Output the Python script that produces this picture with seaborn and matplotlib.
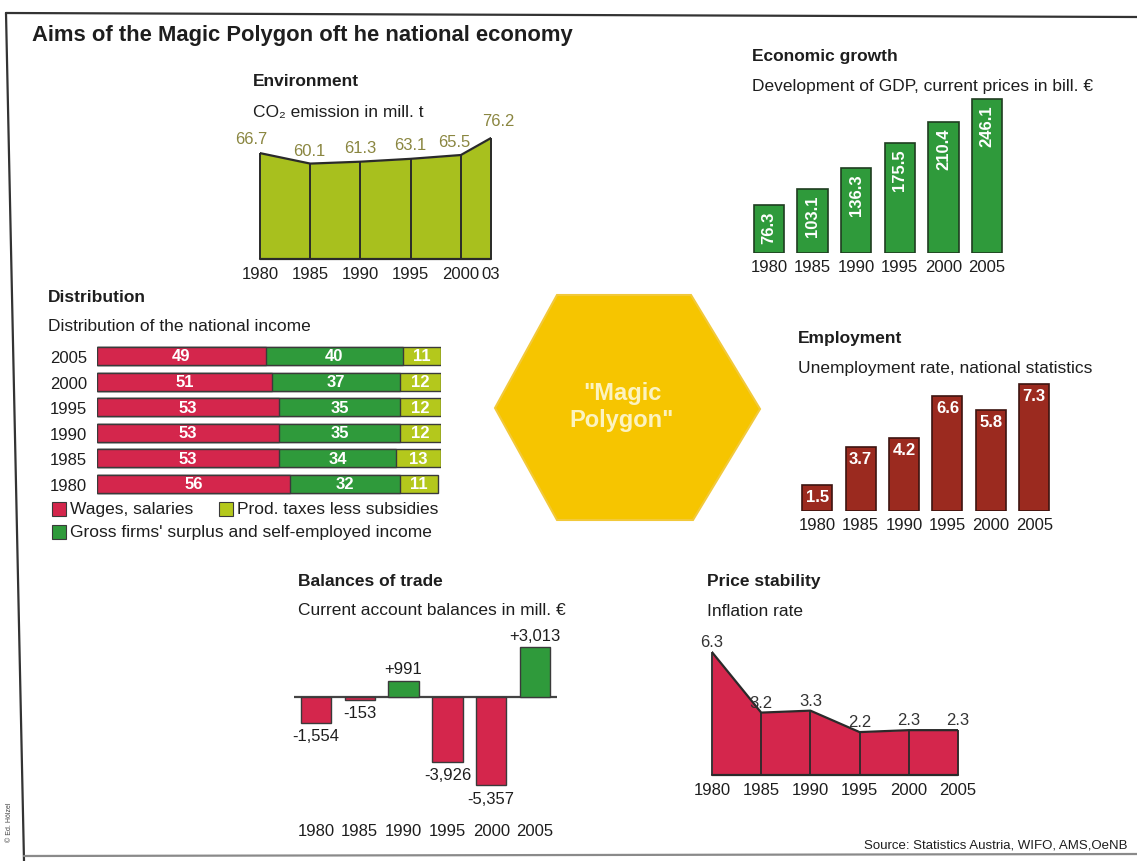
import numpy as np
import pandas as pd
import matplotlib
matplotlib.use("Agg")
import matplotlib.pyplot as plt
from matplotlib.patches import Polygon, Rectangle
import seaborn as sns

# ---------------- data ----------------
env_years = [1980, 1985, 1990, 1995, 2000, 2003]
env_labels = ["1980", "1985", "1990", "1995", "2000", "03"]
co2_emission = [66.7, 60.1, 61.3, 63.1, 65.5, 76.2]

years = ["1980", "1985", "1990", "1995", "2000", "2005"]
gdp_bill = [76.3, 103.1, 136.3, 175.5, 210.4, 246.1]
unemployment = [1.5, 3.7, 4.2, 6.6, 5.8, 7.3]
current_account = [-1554, -153, 991, -3926, -5357, 3013]

inflation_years = [1980, 1985, 1990, 1995, 2000, 2005]
inflation = [6.3, 3.2, 3.3, 2.2, 2.3, 2.3]

dist_years = ["2005", "2000", "1995", "1990", "1985", "1980"]
wages = [49, 51, 53, 53, 53, 56]
gross_surplus = [40, 37, 35, 35, 34, 32]
prod_taxes = [11, 12, 12, 12, 13, 11]

# ---------------- style ----------------
sns.set_theme(style="white")
plt.rcParams["font.family"] = ["Liberation Sans", "DejaVu Sans"]
plt.rcParams["axes.facecolor"] = "none"

DARK = "#2a2a2a"
TEXT = "#1e1e1e"
ENV_GREEN = "#a8c01e"
ENV_LABEL = "#8a8640"
GDP_GREEN = "#2f9a3b"
BAR_EDGE_G = "#1f3d20"
RED = "#d4264c"
BROWN = "#9b2a1f"
YGREEN = "#b4c81c"
HEX_YELLOW = "#f6c500"

FS_TICK = 12
FS_VAL = 12
FS_HEAD = 12.5
FS_SUB = 12.5

W, H = 1137, 862
fig = plt.figure(figsize=(W / 100, H / 100), dpi=100)
fig.patch.set_facecolor("white")


def px_axes(x0, y0, x1, y1):
    """Axes placed by pixel box (origin top-left)."""
    return fig.add_axes([x0 / W, 1 - y1 / H, (x1 - x0) / W, (y1 - y0) / H])


def clean(ax):
    for s in ax.spines.values():
        s.set_visible(False)
    ax.tick_params(length=0, colors=TEXT)
    ax.set_xlabel("")
    ax.set_ylabel("")
    ax.grid(False)


# background layer for frame, headings, legend and the hexagon
bg = fig.add_axes([0, 0, 1, 1])
bg.set_xlim(0, W)
bg.set_ylim(H, 0)
bg.axis("off")

bg.plot([6, W], [14, 18], color="#333333", lw=1.6)
bg.plot([6, 24], [14, H], color="#333333", lw=1.6)
bg.plot([24, W], [857, 855], color="#8a8a8a", lw=1.6)

bg.text(32, 36, "Aims of the Magic Polygon oft he national economy",
        fontsize=15.8, fontweight="bold", va="center", color=TEXT)

headings = [
    ("Environment", "CO\u2082 emission in mill. t", 253, 82, 113),
    ("Economic growth", "Development of GDP, current prices in bill. \u20ac", 752, 57, 87),
    ("Distribution", "Distribution of the national income", 48, 298, 327),
    ("Employment", "Unemployment rate, national statistics", 798, 339, 369),
    ("Balances of trade", "Current account balances in mill. \u20ac", 298, 582, 611),
    ("Price stability", "Inflation rate", 707, 582, 612),
]
for title, sub, x, yt, ys in headings:
    bg.text(x, yt, title, fontsize=FS_HEAD, fontweight="bold", va="center", color=TEXT)
    bg.text(x, ys, sub, fontsize=FS_SUB, va="center", color=TEXT)

bg.text(1128, 846, "Source: Statistics Austria, WIFO, AMS,OeNB",
        fontsize=9.5, ha="right", va="center", color=TEXT)
bg.text(10, 822, "\u00a9 Ed. H\u00f6lzel", rotation=90, fontsize=5,
        ha="center", va="center", color="#444444")

# central hexagon
hexagon = Polygon([(557, 296), (691, 296), (760, 410), (693, 521),
                   (557, 521), (495, 409)], closed=True,
                  facecolor=HEX_YELLOW, edgecolor="#f2c93a", lw=1.5)
bg.add_patch(hexagon)
bg.text(622, 407, "\"Magic\nPolygon\"", fontsize=17, fontweight="bold",
        color="#fcf3c0", ha="center", va="center", linespacing=1.25)

# legend of the distribution chart
legend_items = [
    (52, 510, RED, "Wages, salaries"),
    (219, 510, YGREEN, "Prod. taxes less subsidies"),
    (52, 533, GDP_GREEN, "Gross firms' surplus and self-employed income"),
]
for x, y, c, lab in legend_items:
    bg.add_patch(Rectangle((x, y - 7), 14, 14, facecolor=c, edgecolor="#3a3a3a", lw=0.8))
    bg.text(x + 18, y, lab, fontsize=FS_SUB, va="center", color=TEXT)

# ---------------- Environment: CO2 area ----------------
ax = px_axes(260, 133, 491, 260)
ax.fill_between(env_years, co2_emission, 0, color=ENV_GREEN, lw=0)
sns.lineplot(x=env_years, y=co2_emission, color=DARK, lw=1.6, ax=ax)
ax.vlines(env_years, 0, co2_emission, color=DARK, lw=1.4, clip_on=False)
ax.axhline(0, color=DARK, lw=1.6, clip_on=False)
ax.set_xlim(1980, 2003)
ax.set_ylim(0, 80)
env_offsets = [(-6, 5), (-1, 4), (0, 5), (0, 5), (-5, 4), (5, 7)]
for x, v, off in zip(env_years, co2_emission, env_offsets):
    ax.annotate(f"{v:.1f}", (x, v), xytext=off, textcoords="offset points",
                ha="center", va="bottom", fontsize=FS_VAL, color=ENV_LABEL,
                annotation_clip=False)
ax.set_xticks(env_years)
ax.set_xticklabels(env_labels, fontsize=FS_TICK)
ax.set_yticks([])
clean(ax)
ax.tick_params(axis="x", pad=5)

# ---------------- Economic growth: GDP bars ----------------
ax = px_axes(747, 91.5, 1009, 254)
sns.barplot(x=years, y=gdp_bill, color=GDP_GREEN, saturation=1, width=0.69,
            edgecolor=BAR_EDGE_G, linewidth=1.2, ax=ax)
ax.set_ylim(0, 260)
for i, v in enumerate(gdp_bill):
    ax.annotate(f"{v:.1f}", (i, v), xytext=(0, -4), textcoords="offset points",
                rotation=90, ha="center", va="top", fontsize=FS_VAL,
                fontweight="bold", color="white")
ax.set_yticks([])
clean(ax)
ax.tick_params(axis="x", labelsize=FS_TICK, pad=4)

# ---------------- Employment: unemployment bars ----------------
ax = px_axes(795.5, 373, 1056, 512)
sns.barplot(x=years, y=unemployment, color=BROWN, saturation=1, width=0.69,
            edgecolor="#3d1410", linewidth=1.2, ax=ax)
ax.set_ylim(0, 8)
for i, v in enumerate(unemployment):
    ax.annotate(f"{v:.1f}", (i, v), xytext=(0, -3), textcoords="offset points",
                ha="center", va="top", fontsize=FS_VAL, fontweight="bold",
                color="white")
ax.set_yticks([])
clean(ax)
ax.tick_params(axis="x", labelsize=FS_TICK, pad=4)

# ---------------- Balances of trade ----------------
ax = px_axes(294, 640, 557, 818)
sign = ["pos" if v > 0 else "neg" for v in current_account]
sns.barplot(x=years, y=current_account, hue=sign, palette={"pos": GDP_GREEN, "neg": RED},
            saturation=1, dodge=False, legend=False, width=0.69,
            edgecolor="#3a3a3a", linewidth=1.0, ax=ax)
ax.set_ylim(-7273, 3515)
ax.axhline(0, color="#444444", lw=1.6, zorder=0.5)
for i, v in enumerate(current_account):
    up = v > 0
    ax.annotate(f"{v:+,}", (i, v), xytext=(0, 3 if up else -4),
                textcoords="offset points", ha="center",
                va="bottom" if up else "top", fontsize=FS_VAL, color=TEXT)
ax.set_yticks([])
clean(ax)
ax.tick_params(axis="x", labelsize=FS_TICK, pad=4)

# ---------------- Price stability: inflation area ----------------
ax = px_axes(712, 639.5, 958, 776)
ax.fill_between(inflation_years, inflation, 0, color=RED, lw=0)
sns.lineplot(x=inflation_years, y=inflation, color=DARK, lw=1.6, ax=ax)
ax.vlines(inflation_years, 0, inflation, color=DARK, lw=1.3, clip_on=False)
ax.axhline(0, color=DARK, lw=1.6, clip_on=False)
ax.set_xlim(1980, 2005)
ax.set_ylim(0, 7)
for x, v in zip(inflation_years, inflation):
    ax.annotate(f"{v:.1f}", (x, v), xytext=(0, 2), textcoords="offset points",
                ha="center", va="bottom", fontsize=FS_VAL, color="#333333",
                annotation_clip=False)
ax.set_xticks(inflation_years)
ax.set_xticklabels([str(y) for y in inflation_years], fontsize=FS_TICK)
ax.set_yticks([])
clean(ax)
ax.tick_params(axis="x", pad=5)

# ---------------- Distribution: stacked horizontal bars ----------------
dist = pd.DataFrame({"year": dist_years, "wages": wages,
                     "gross": gross_surplus, "taxes": prod_taxes})
dist["wg"] = dist["wages"] + dist["gross"]
dist["total"] = dist["wg"] + dist["taxes"]

ax = px_axes(97, 344.2, 441, 497.8)
for col, c in [("total", YGREEN), ("wg", GDP_GREEN), ("wages", RED)]:
    sns.barplot(data=dist, x=col, y="year", orient="h", color=c, saturation=1,
                width=0.7, edgecolor="#3a3a3a", linewidth=1.0, ax=ax)
ax.set_xlim(0, 100)
for i, r in dist.iterrows():
    centers = [r["wages"] / 2, r["wages"] + r["gross"] / 2, r["wg"] + r["taxes"] / 2]
    for cx, v in zip(centers, [r["wages"], r["gross"], r["taxes"]]):
        ax.text(cx, i, f"{v}", ha="center", va="center", fontsize=FS_VAL,
                fontweight="bold", color="white")
ax.set_xticks([])
clean(ax)
ax.tick_params(axis="y", labelsize=FS_TICK, pad=7)

fig.savefig("out.png", dpi=100)
